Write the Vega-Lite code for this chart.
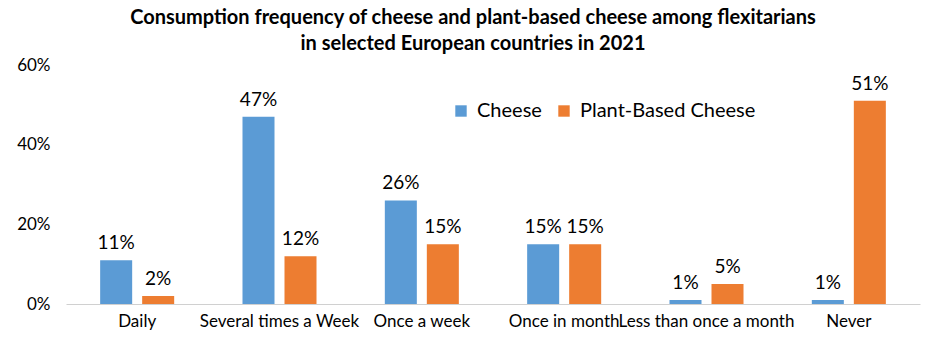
{
  "$schema": "https://vega.github.io/schema/vega-lite/v6.json",
  "width": 854,
  "height": 239,
  "autosize": {"type": "none"},
  "padding": {"left": 66, "top": 65, "right": 23, "bottom": 50},
  "background": "white",
  "config": {"view": {"stroke": null}, "font": "Lato"},
  "title": {
    "text": ["Consumption frequency of cheese and plant-based cheese among flexitarians", "in selected European countries in 2021"],
    "font": "Lato",
    "fontSize": 20,
    "fontWeight": "bold",
    "color": "#000000",
    "anchor": "middle",
    "dx": -20,
    "offset": 2,
    "lineHeight": 26
  },
  "data": {
    "values": [
      {"freq": "Daily", "type": "Cheese", "value": 0.11},
      {"freq": "Daily", "type": "Plant-Based Cheese", "value": 0.02},
      {"freq": "Several times a Week", "type": "Cheese", "value": 0.47},
      {"freq": "Several times a Week", "type": "Plant-Based Cheese", "value": 0.12},
      {"freq": "Once a week", "type": "Cheese", "value": 0.26},
      {"freq": "Once a week", "type": "Plant-Based Cheese", "value": 0.15},
      {"freq": "Once in month", "type": "Cheese", "value": 0.15},
      {"freq": "Once in month", "type": "Plant-Based Cheese", "value": 0.15},
      {"freq": "Less than once a month", "type": "Cheese", "value": 0.01},
      {"freq": "Less than once a month", "type": "Plant-Based Cheese", "value": 0.05},
      {"freq": "Never", "type": "Cheese", "value": 0.01},
      {"freq": "Never", "type": "Plant-Based Cheese", "value": 0.51}
    ]
  },
  "encoding": {
    "x": {
      "field": "freq", "type": "nominal", "sort": null,
      "scale": {"paddingInner": 0.48, "paddingOuter": 0.24},
      "axis": {
        "title": null, "labelAngle": 0, "labelFontSize": 17, "labelColor": "#000000",
        "ticks": false, "domainColor": "#d0d0d0", "labelPadding": 9, "labelOverlap": false,
        "labelFont": "Lato", "grid": false, "labelLimit": 300
      }
    },
    "xOffset": {"field": "type", "type": "nominal", "scale": {"paddingInner": 0.238}},
    "y": {
      "field": "value", "type": "quantitative",
      "scale": {"domain": [0, 0.6], "nice": false},
      "axis": {
        "title": null, "format": ".0%", "values": [0, 0.2, 0.4, 0.6], "grid": false,
        "domain": false, "ticks": false, "labelFontSize": 17, "labelColor": "#000000",
        "labelPadding": 16, "labelFont": "Lato"
      }
    },
    "color": {
      "field": "type", "type": "nominal",
      "scale": {"domain": ["Cheese", "Plant-Based Cheese"], "range": ["#5B9BD5", "#ED7D31"]},
      "legend": {
        "title": null, "orient": "none", "direction": "horizontal",
        "legendX": 385, "legendY": 36, "symbolType": "square", "symbolSize": 130,
        "labelFontSize": 20, "labelColor": "#000000", "columnPadding": 12, "labelOffset": 6,
        "symbolStrokeWidth": 0, "labelFont": "Lato", "labelLimit": 400
      }
    }
  },
  "layer": [
    {"mark": {"type": "bar"}},
    {
      "mark": {"type": "text", "baseline": "bottom", "dy": -7, "fontSize": 19, "color": "#000000", "font": "Lato"},
      "encoding": {"text": {"field": "value", "type": "quantitative", "format": ".0%"}, "color": {"value": "#000000"}}
    }
  ]
}
